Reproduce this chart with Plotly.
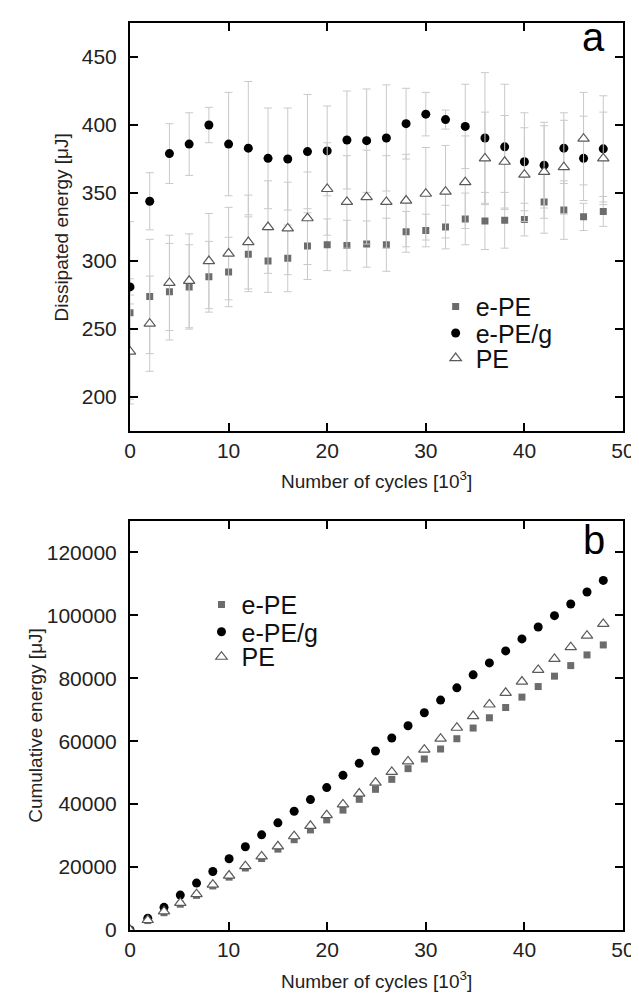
import plotly.graph_objects as go

# ---------------- data: panel a (dissipated energy) ----------------
cycles_a = [0, 2, 4, 6, 8, 10, 12, 14, 16, 18, 20, 22, 24, 26, 28, 30, 32, 34, 36, 38, 40, 42, 44, 46, 48]

epe_a = [262, 274, 277.5, 281, 288.5, 292, 305, 300, 302, 311, 312, 311.5, 312.5, 312, 321.5,
         322.5, 325, 331, 329.5, 330, 330.5, 343.5, 337.5, 332.5, 336.5]
epe_a_err = [67, 42, 35.5, 31, 26, 25.5, 27.5, 23, 24.5, 24.5, 19, 18.5, 17, 19.5, 15,
             12, 16, 19, 21, 20.5, 12, 23, 21.5, 10, 11]

epeg_a = [281, 344, 379, 386, 400, 386, 383, 375.5, 375, 380.5, 381, 389, 388.5, 390.5, 401,
          408, 404, 399, 390.5, 384, 373, 370.5, 383, 375.5, 382.5]
epeg_a_err = [6, 21, 22, 23, 13, 38, 49, 37, 37.5, 42, 33, 36, 38, 39, 26,
              16, 7, 31, 48, 46, 36, 31.5, 26, 31, 39]

pe_a = [233.5, 254, 284, 285.5, 300, 305.5, 314, 325, 324, 331.5, 353, 343.5, 347, 343.5, 344.5,
        349.5, 351, 358, 375.5, 373, 363.5, 365.5, 369, 390, 375.5]
pe_a_err = [35, 35, 35, 34.5, 35, 34, 34.5, 34, 34, 34, 34, 34, 34.5, 34, 34,
            34, 34, 34, 34, 34, 34.5, 34, 34.5, 34, 34]

# ---------------- data: panel b (cumulative energy) ----------------
cycles_b = [0, 1.8, 3.45, 5.1, 6.75, 8.4, 10.05, 11.7, 13.35, 15.0, 16.65, 18.3, 19.95, 21.6, 23.25,
            24.9, 26.55, 28.2, 29.85, 31.5, 33.15, 34.8, 36.45, 38.1, 39.75, 41.4, 43.05, 44.7, 46.35, 48.0]

epe_b = [0, 3000, 5500, 8200, 11000, 14000, 16800, 19700, 22700, 25700, 28700, 31800, 35000, 38100, 41540,
         44710, 47880, 51280, 54350, 57520, 60790, 64180, 67450, 70710, 74010, 77370, 80670, 84030, 87420, 90590]

epeg_b = [0, 3710, 7200, 11100, 14900, 18600, 22640, 26450, 30250, 34060, 37740, 41450, 45250, 49150, 52960,
          56890, 61010, 64910, 69030, 73060, 76960, 81080, 84890, 88690, 92500, 96300, 99890, 103600, 107400, 111100]

pe_b = [0, 3170, 5900, 8600, 11400, 14400, 17300, 20300, 23400, 26600, 29800, 33100, 36500, 39900, 43350,
        46840, 50230, 53590, 57300, 60790, 64280, 67990, 71670, 75370, 78960, 82670, 86160, 89870, 93550, 97260]

names = ["e-PE", "e-PE/g", "PE"]
x_ticks = [0, 10, 20, 30, 40, 50]
ya_ticks = [200, 250, 300, 350, 400, 450]
yb_ticks = [0, 20000, 40000, 60000, 80000, 100000, 120000]

# ---------------- styling ----------------
FONT = "Liberation Sans, Arial, sans-serif"
SQ_COL = "#6c6c6c"
TRI_COL = "#5a5a5a"
ERR = dict(type="data", color="#c9c9c9", thickness=1, width=4)

sq = dict(symbol="square", size=7, color=SQ_COL)
ci = dict(symbol="circle", size=9, color="black")
tr = dict(symbol="triangle-up", size=10, color="white", line=dict(color=TRI_COL, width=1.2))

fig = go.Figure()

# panel a
fig.add_trace(go.Scatter(x=cycles_a, y=epe_a, mode="markers", name=names[0], showlegend=True,
                         error_y=dict(ERR, array=epe_a_err), marker=sq,
                         xaxis="x", yaxis="y", legend="legend"))
fig.add_trace(go.Scatter(x=cycles_a, y=epeg_a, mode="markers", name=names[1], showlegend=True,
                         error_y=dict(ERR, array=epeg_a_err), marker=ci,
                         xaxis="x", yaxis="y", legend="legend2"))
fig.add_trace(go.Scatter(x=cycles_a, y=pe_a, mode="markers", name=names[2], showlegend=True,
                         error_y=dict(ERR, array=pe_a_err), marker=tr,
                         xaxis="x", yaxis="y", legend="legend3"))

# panel b
fig.add_trace(go.Scatter(x=cycles_b, y=epe_b, mode="markers", name=names[0], showlegend=True, marker=sq,
                         xaxis="x2", yaxis="y2", legend="legend4"))
fig.add_trace(go.Scatter(x=cycles_b, y=epeg_b, mode="markers", name=names[1], showlegend=True, marker=ci,
                         xaxis="x2", yaxis="y2", legend="legend5"))
fig.add_trace(go.Scatter(x=cycles_b, y=pe_b, mode="markers", name=names[2], showlegend=True, marker=tr,
                         xaxis="x2", yaxis="y2", legend="legend6"))

axis_common = dict(showline=True, linecolor="black", linewidth=2, mirror="ticks",
                   ticks="inside", ticklen=8, tickwidth=2, tickcolor="black",
                   showgrid=False, zeroline=False,
                   tickfont=dict(family=FONT, size=21, color="#222"))


def leg(x, y):
    return dict(x=x, y=y, xanchor="left", yanchor="middle", bgcolor="rgba(0,0,0,0)",
                font=dict(family=FONT, size=25, color="#111"), tracegroupgap=0)


fig.update_layout(
    width=639, height=993,
    showlegend=True,
    margin=dict(l=122, r=13, t=15, b=71),
    paper_bgcolor="white", plot_bgcolor="white",
    font=dict(family=FONT, color="#222"),
    xaxis=dict(axis_common, domain=[0, 1], range=[0, 50], tickvals=x_ticks, anchor="y"),
    yaxis=dict(axis_common, domain=[0.55, 1], range=[175, 475], tickvals=ya_ticks, anchor="x",
               ticklabelstandoff=7),
    xaxis2=dict(axis_common, domain=[0, 1], range=[0, 50], tickvals=x_ticks, anchor="y2"),
    yaxis2=dict(axis_common, domain=[0, 0.451], range=[0, 130000], tickvals=yb_ticks, anchor="x2",
                tickformat="d", ticklabelstandoff=7),
    legend=leg(0.62, 0.6872),
    legend2=leg(0.62, 0.6579),
    legend3=leg(0.62, 0.6303),
    legend4=leg(0.145, 0.3586),
    legend5=leg(0.145, 0.3285),
    legend6=leg(0.145, 0.3010),
    annotations=[
        dict(text="a", xref="paper", yref="paper", x=0.968, y=0.985, xanchor="right", yanchor="middle",
             showarrow=False, font=dict(family=FONT, size=40, color="black")),
        dict(text="b", xref="paper", yref="paper", x=0.968, y=0.430, xanchor="right", yanchor="middle",
             showarrow=False, font=dict(family=FONT, size=40, color="black")),
        dict(text="Number of cycles [10<sup>3</sup>]", xref="paper", yref="paper", x=0.5, y=0.496,
             xanchor="center", yanchor="middle", showarrow=False,
             font=dict(family=FONT, size=19, color="#222")),
        dict(text="Number of cycles [10<sup>3</sup>]", xref="paper", yref="paper", x=0.5, y=-0.055,
             xanchor="center", yanchor="middle", showarrow=False,
             font=dict(family=FONT, size=19, color="#222")),
        dict(text="Dissipated energy [μJ]", xref="paper", yref="paper", x=-0.139, y=0.775,
             xanchor="center", yanchor="middle", textangle=-90, showarrow=False,
             font=dict(family=FONT, size=19, color="#222")),
        dict(text="Cumulative energy [μJ]", xref="paper", yref="paper", x=-0.192, y=0.2255,
             xanchor="center", yanchor="middle", textangle=-90, showarrow=False,
             font=dict(family=FONT, size=19, color="#222")),
    ],
)

fig.write_html("out.html")
